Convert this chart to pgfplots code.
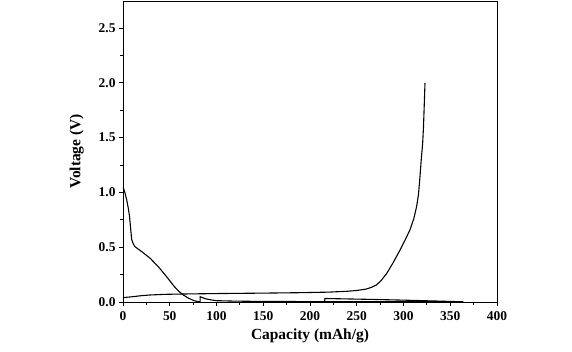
\documentclass[border=0pt]{standalone}
\usepackage{fontspec}
\setmainfont{Liberation Serif}
\usepackage{pgfplots}
\pgfplotsset{compat=1.18}
\begin{document}
\begin{tikzpicture}
\begin{axis}[
  scale only axis,
  width=374bp, height=301bp,
  xmin=0, xmax=400, ymin=0, ymax=2.747,
  xtick={0,50,...,400},
  ytick={0,0.5,...,2.5},
  minor x tick num=1,
  minor y tick num=1,
  tick align=outside,
  xtick pos=bottom, ytick pos=left,
  major tick length=4bp, minor tick length=2.5bp,
  axis line style={line width=0.9pt},
  every tick/.style={black, line width=0.8pt},
  /pgf/number format/assume math mode=true,
  /pgf/number format/.cd, fixed, fixed zerofill, precision=1, /pgfplots/.cd,
  yticklabel style={font=\fontsize{13.5}{15}\selectfont\bfseries, /pgf/number format/fixed zerofill, /pgf/number format/precision=1},
  xticklabel style={font=\fontsize{13.5}{15}\selectfont\bfseries, /pgf/number format/precision=0, yshift=-2bp},
  xlabel={Capacity (mAh/g)},
  ylabel={Voltage (V)},
  xlabel style={font=\fontsize{15.5}{18}\selectfont\bfseries, yshift=-1bp},
  ylabel style={font=\fontsize{15.5}{18}\selectfont\bfseries, yshift=8bp},
  clip=true,
]
\addplot[black, line width=1.1pt] coordinates {
(0,1.05) (2,1.0) (4,0.93) (5.7,0.855) (7,0.78) (8.5,0.64) (9.3,0.57) (11,0.53) (12.8,0.505)
(20,0.46) (28.9,0.40) (38,0.32) (46.7,0.23) (55,0.14) (60,0.095) (64.5,0.064) (70,0.035)
(76,0.012) (80,0.004) (82.4,0.002) (82.6,0.048) (88,0.03) (95,0.018) (100,0.012)
(120,0.008) (150,0.005) (190,0.004) (215.5,0.004) (216,0.032) (240,0.028) (270,0.023)
(300,0.017) (330,0.01) (364,0.002) (300,0.004) (250,0.004) (216,0.004)
};
\addplot[black, line width=1.1pt] coordinates {
(0,0.04) (10,0.048) (20,0.058) (28.9,0.064) (45,0.07) (64.5,0.073) (100,0.077)
(150,0.081) (189,0.085) (220,0.09) (240,0.098) (250,0.105) (260,0.118) (266,0.135)
(271,0.155) (276,0.195) (282,0.26) (289,0.36) (296,0.47) (302,0.57) (307,0.66)
(311,0.76) (314,0.87) (316,0.98) (317.6,1.14) (319,1.3) (320.5,1.45) (321.4,1.6)
(322,1.75) (322.6,1.9) (323,2.0)
};
\end{axis}
\path[use as bounding box] (-123bp,-50bp) rectangle (449bp,302bp);
\end{tikzpicture}
\end{document}
